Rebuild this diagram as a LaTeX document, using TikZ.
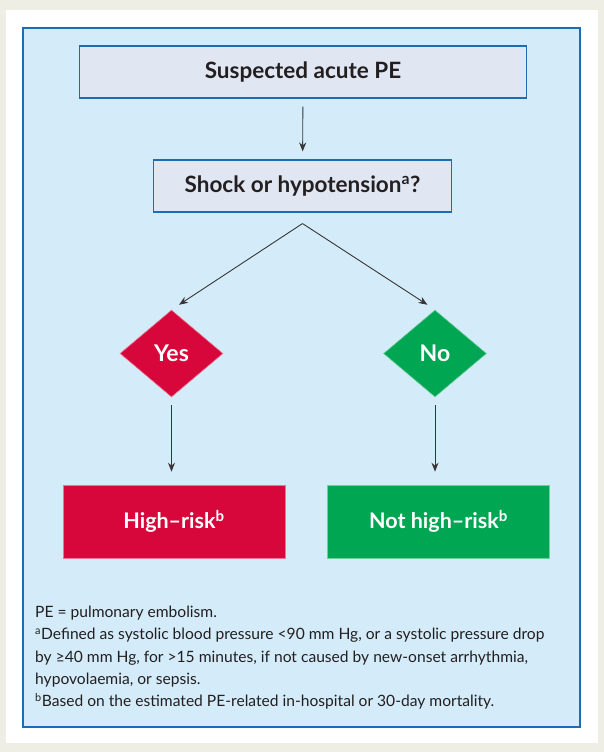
\documentclass[tikz,border=0pt]{standalone}
\usepackage{fontspec}
\setmainfont{Lato}
\usetikzlibrary{shapes.geometric,arrows.meta}

\definecolor{pagebg}{HTML}{EFEEE4}
\definecolor{framecol}{HTML}{1E6DB4}
\definecolor{panelcol}{HTML}{D4ECF9}
\definecolor{stepcol}{HTML}{E1E6F3}
\definecolor{riskred}{HTML}{D7073B}
\definecolor{okgreen}{HTML}{00A651}
\definecolor{inkcol}{HTML}{231F20}

\tikzset{
  question/.style={draw=framecol, line width=1.1pt, fill=stepcol, text=inkcol,
    font=\bfseries\fontsize{22.5}{26}\selectfont, minimum height=52pt},
  choice/.style={diamond, fill=#1, draw=#1!55!white, line width=0.6pt, text=white,
    font=\bfseries\fontsize{23}{26}\selectfont, inner sep=0pt,
    minimum width=103pt, minimum height=87pt},
  verdict/.style={rectangle, fill=#1, draw=#1!55!white, line width=0.6pt, text=white,
    font=\bfseries\fontsize{21.5}{25}\selectfont, minimum width=222pt, minimum height=73pt},
  arr/.style={-{Stealth[length=9pt,width=7pt]}, line width=0.9pt, draw=inkcol!90}
}

\begin{document}
\begin{tikzpicture}[x=1pt,y=-1pt]
        % page and panel
        \fill [pagebg] (0,0) rectangle (604,752);
        \useasboundingbox (0,0) rectangle (604,752);
        \fill [white] (6,10) rectangle (598,743);
        \draw [framecol, fill=panelcol, line width=2.6pt] (23,28) rectangle (580,727);

        % flow
        \node [question, minimum width=447pt] (pe) at (303,72) {Suspected acute PE};
        \node [question, minimum width=298pt] (shock) at (302.5,186) {Shock or hypotension\textsuperscript{a}?};
        \node [choice=riskred] (yes) at (171.5,353.5) {Yes};
        \node [choice=okgreen] (no) at (435,353.5) {No};
        \node [verdict=riskred] (high) at (174,521.5) {High–risk\textsuperscript{b}};
        \node [verdict=okgreen] (nothigh) at (438.5,521.5) {Not high–risk\textsuperscript{b}};
        \coordinate (split) at ([yshift=-11pt]shock.south);

        \draw [arr, shorten <=8pt, shorten >=8pt] (pe) -- (shock);
        \draw [arr, shorten >=9pt] (split) -- (yes.north);
        \draw [arr, shorten >=9pt] (split) -- (no.north);
        \draw [arr, shorten <=8pt, shorten >=13pt] (yes.south) -- (high.north -| yes.south);
        \draw [arr, shorten <=8pt, shorten >=13pt] (no.south) -- (nothigh.north -| no.south);

        % notes
        \node [anchor=north west, align=left, text=inkcol, inner sep=0pt,
          font=\fontsize{15.6}{22.2}\selectfont] (notes) at (35,606) {%
          PE = pulmonary embolism.\\
          \textsuperscript{a}Defined as systolic blood pressure <90 mm Hg, or a systolic pressure drop\\
          by ≥40 mm Hg, for >15 minutes, if not caused by new-onset arrhythmia,\\
          hypovolaemia, or sepsis.\\
          \textsuperscript{b}Based on the estimated PE-related in-hospital or 30-day mortality.};
\end{tikzpicture}
\end{document}
